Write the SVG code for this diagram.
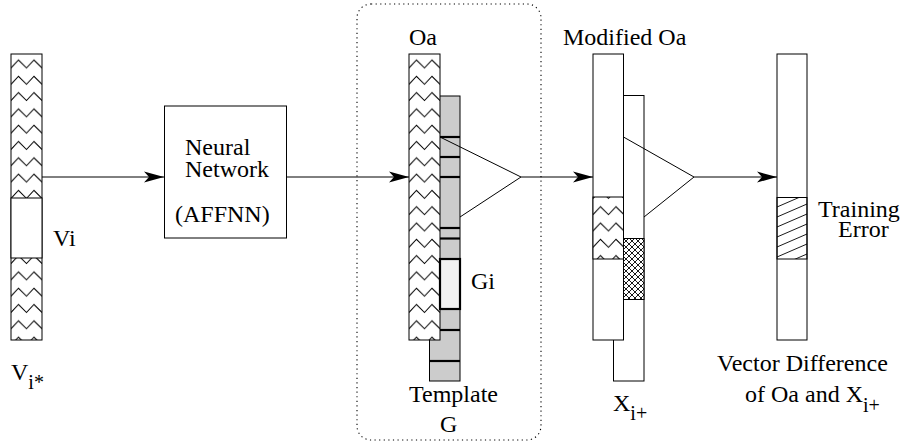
<svg xmlns="http://www.w3.org/2000/svg" width="904" height="445" viewBox="0 0 904 445" font-family="'Liberation Serif', Tinos, 'Times New Roman', 'DejaVu Serif', serif">
  <style>
    text { font-family: "Liberation Serif", Tinos, "Times New Roman", "DejaVu Serif", serif; font-size: 24px; fill: #000; }
    .sub { font-size: 20px; }
    .bar { fill: #fff; stroke: #000; stroke-width: 1; }
    .ln { fill: none; stroke: #000; stroke-width: 1; }
    .sep { stroke: #000; stroke-width: 2.2; }
    .zz { fill: url(#zig); stroke: #000; stroke-width: 1; }
  </style>
  <defs>
    <!-- zigzag fill for vector bars, one row every 16.3px -->
    <pattern id="zig" patternUnits="userSpaceOnUse" x="0" y="0" width="31" height="16.3">
      <rect width="31" height="16.3" fill="#fff"/>
      <path d="M0,14 L7.5,6 L15.5,14 L23,6 L31,14" fill="none" stroke="#000" stroke-width="1"/>
    </pattern>
    <!-- diamond cross-hatch -->
    <pattern id="xhatch" patternUnits="userSpaceOnUse" x="623" y="238" width="6" height="6">
      <rect width="6" height="6" fill="#fff"/>
      <path d="M0,0 L6,6 M6,0 L0,6" stroke="#000" stroke-width="0.9"/>
    </pattern>
    <clipPath id="errClip">
      <rect x="777" y="197.5" width="30" height="61.5"/>
    </clipPath>
    <marker id="arrow" markerUnits="userSpaceOnUse" markerWidth="22" markerHeight="12" refX="20" refY="6" orient="auto">
      <path d="M0,0.5 L20,6 L0,11.5 L5,6 Z" fill="#000"/>
    </marker>
  </defs>

  <!-- input vector Vi* -->
  <g id="input-vector">
    <g transform="translate(11,54)">
      <rect class="zz" x="0" y="0" width="31" height="286"/>
      <rect class="bar" x="0" y="144" width="31" height="60"/>
    </g>
    <text x="53" y="246">Vi</text>
    <text x="11" y="380">V<tspan class="sub" dy="9">i*</tspan></text>
  </g>

  <!-- network box -->
  <g id="neural-network">
    <rect class="bar" x="164.5" y="106" width="122" height="132"/>
    <text x="185" y="155">Neural</text>
    <text x="185" y="177">Network</text>
    <text x="175" y="222">(AFFNN)</text>
  </g>

  <!-- network output Oa compared with template G -->
  <g id="output-template">
    <rect x="357" y="4" width="184" height="436" rx="14" ry="14" fill="none" stroke="#000" stroke-width="1.1" stroke-dasharray="1.2 3.4"/>
    <rect x="429.5" y="96" width="30.5" height="285" fill="#cccccc" stroke="#000" stroke-width="1"/>
    <g transform="translate(409,54)">
      <rect class="zz" x="0" y="0" width="31" height="286"/>
    </g>
    <line class="sep" x1="440" y1="137" x2="460" y2="137"/>
    <line class="sep" x1="440" y1="157" x2="460" y2="157"/>
    <line class="sep" x1="440" y1="177" x2="460" y2="177"/>
    <line class="sep" x1="440" y1="228" x2="460" y2="228"/>
    <line class="sep" x1="440" y1="238.5" x2="460" y2="238.5"/>
    <line class="sep" x1="440" y1="330" x2="460" y2="330"/>
    <line class="sep" x1="429.5" y1="361" x2="460" y2="361"/>
    <rect x="440" y="259" width="20" height="50" fill="#f0f0f0" stroke="#000" stroke-width="2.2"/>
    <polyline class="ln" points="440,137 521,177 460,217"/>
    <text x="409" y="45">Oa</text>
    <text x="471" y="289">Gi</text>
    <text x="409" y="402">Template</text>
    <text x="440" y="432">G</text>
  </g>

  <!-- modified output and target X -->
  <g id="modified-target">
    <rect class="bar" x="613.5" y="95.5" width="30.5" height="285.5"/>
    <rect x="623" y="238.5" width="21" height="61" fill="url(#xhatch)" stroke="#000" stroke-width="1"/>
    <g transform="translate(593,54)">
      <rect class="bar" x="0" y="0" width="30.5" height="286"/>
      <rect class="zz" x="0" y="143" width="30.5" height="62"/>
    </g>
    <polyline class="ln" points="623.5,137 694,177 644,217"/>
    <text x="563" y="45">Modified Oa</text>
    <text x="613" y="411">X<tspan class="sub" dy="9">i+</tspan></text>
  </g>

  <!-- difference vector with hatched error segment -->
  <g id="difference">
    <rect class="bar" x="777" y="54" width="30" height="286"/>
    <g clip-path="url(#errClip)" stroke="#000" stroke-width="0.9">
      <line x1="777" y1="197" x2="807" y2="184"/>
      <line x1="777" y1="207" x2="807" y2="194"/>
      <line x1="777" y1="217" x2="807" y2="204"/>
      <line x1="777" y1="227" x2="807" y2="214"/>
      <line x1="777" y1="237" x2="807" y2="224"/>
      <line x1="777" y1="247" x2="807" y2="234"/>
      <line x1="777" y1="257" x2="807" y2="244"/>
      <line x1="777" y1="267" x2="807" y2="254"/>
      <line x1="777" y1="277" x2="807" y2="264"/>
    </g>
    <rect x="777" y="197.5" width="30" height="61.5" fill="none" stroke="#000" stroke-width="1"/>
    <text x="818" y="217">Training</text>
    <text x="838" y="237">Error</text>
    <text x="717" y="371">Vector Difference</text>
    <text x="745" y="402">of Oa and X<tspan class="sub" dy="10">i+</tspan></text>
  </g>

  <!-- connectors -->
  <g id="connectors">
    <line class="ln" x1="42" y1="177" x2="164" y2="177" marker-end="url(#arrow)"/>
    <line class="ln" x1="287" y1="177" x2="409" y2="177" marker-end="url(#arrow)"/>
    <line class="ln" x1="521" y1="177" x2="593" y2="177" marker-end="url(#arrow)"/>
    <line class="ln" x1="694" y1="177" x2="777" y2="177" marker-end="url(#arrow)"/>
  </g>
</svg>
